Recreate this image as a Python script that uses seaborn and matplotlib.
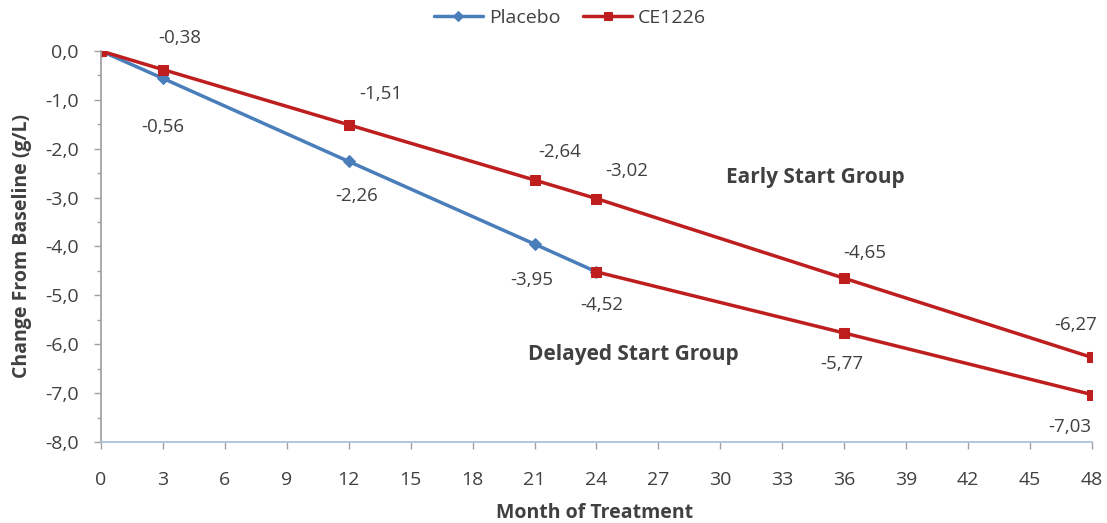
import numpy as np
import pandas as pd
import matplotlib
matplotlib.use('Agg')
import matplotlib.pyplot as plt
import seaborn as sns
from matplotlib.ticker import MultipleLocator, FuncFormatter

# data
placebo_month = [0, 3, 12, 21, 24]
placebo_val = [0, -0.56, -2.26, -3.95, -4.52]
early_month = [0, 3, 12, 21, 24, 36, 48]
early_val = [0, -0.38, -1.51, -2.64, -3.02, -4.65, -6.27]
delayed_month = [24, 36, 48]
delayed_val = [-4.52, -5.77, -7.03]

# label offsets in points (dx, dy) for each point
placebo_off = [None, (0, -35), (6, -25), (-2, -26), (4, -24)]
early_off = [None, (12, 23), (23, 22), (18, 20), (22, 20), (15, 18), (-12, 23)]
delayed_off = [None, (-2, -22), (-16, -23)]

sns.set_theme(style='white')
plt.rcParams['font.family'] = ['Open Sans', 'DejaVu Sans']

blue = '#4a7ebb'
red = '#be1e1e'
grey = '#404040'

fig = plt.figure(figsize=(11.07, 5.23), dpi=100)
ax = fig.add_axes([0.0912, 0.1549, 0.8952, 0.7476])

sns.lineplot(x=placebo_month, y=placebo_val, ax=ax, color=blue, lw=2.5,
             marker='D', markersize=6, markeredgecolor=blue, label='Placebo')
sns.lineplot(x=early_month, y=early_val, ax=ax, color=red, lw=2.5,
             marker='s', markersize=7, markeredgecolor=red, label='CE1226')
sns.lineplot(x=delayed_month, y=delayed_val, ax=ax, color=red, lw=2.5,
             marker='s', markersize=7, markeredgecolor=red, legend=False)

def fmt(v):
    return ('%.2f' % v).replace('.', ',')

for xs, ys, offs in [(placebo_month, placebo_val, placebo_off),
                     (early_month, early_val, early_off),
                     (delayed_month, delayed_val, delayed_off)]:
    for x, y, o in zip(xs, ys, offs):
        if o is None:
            continue
        ax.annotate(fmt(y), (x, y), xytext=o, textcoords='offset points',
                    ha='center', va='center', fontsize=13.5, color=grey)

ax.text(34.6, -2.58, 'Early Start Group', fontsize=15, color=grey,
        fontweight='bold', ha='center', va='center')
ax.text(25.8, -6.22, 'Delayed Start Group', fontsize=15, color=grey,
        fontweight='bold', ha='center', va='center')

ax.set_xlim(0, 48)
ax.set_ylim(-8, 0)
ax.xaxis.set_major_locator(MultipleLocator(3))
ax.yaxis.set_major_locator(MultipleLocator(1))
ax.yaxis.set_minor_locator(MultipleLocator(0.5))
ax.yaxis.set_major_formatter(FuncFormatter(lambda v, p: ('%.1f' % v).replace('.', ',')))
ax.tick_params(axis='both', labelsize=14, colors=grey, length=5, width=1,
               direction='out', bottom=True, left=True)
ax.tick_params(axis='x', pad=16)
ax.tick_params(axis='y', pad=11)
ax.tick_params(axis='y', which='minor', length=3, width=1, left=True,
               color='#a0a0a0')
ax.tick_params(axis='both', which='major', color='#a0a0a0')
for s in ['top', 'right']:
    ax.spines[s].set_visible(False)
ax.spines['left'].set_color('#a0a0a0')
ax.spines['bottom'].set_color('#a7bfdc')

ax.set_xlabel('Month of Treatment', fontsize=14, fontweight='bold', color=grey)
ax.set_ylabel('Change From Baseline (g/L)', fontsize=14, fontweight='bold',
              color=grey)
ax.xaxis.set_label_coords(0.498, -0.156)
ax.yaxis.set_label_coords(-0.07, 0.5)

ax.legend(loc='center', bbox_to_anchor=(0.515, 0.966),
          bbox_transform=fig.transFigure, ncol=2, frameon=False,
          fontsize=14, handlelength=2.5, columnspacing=1.2,
          labelcolor=grey, handletextpad=0.3, markerscale=0.8)

fig.savefig('out.png', dpi=100)
